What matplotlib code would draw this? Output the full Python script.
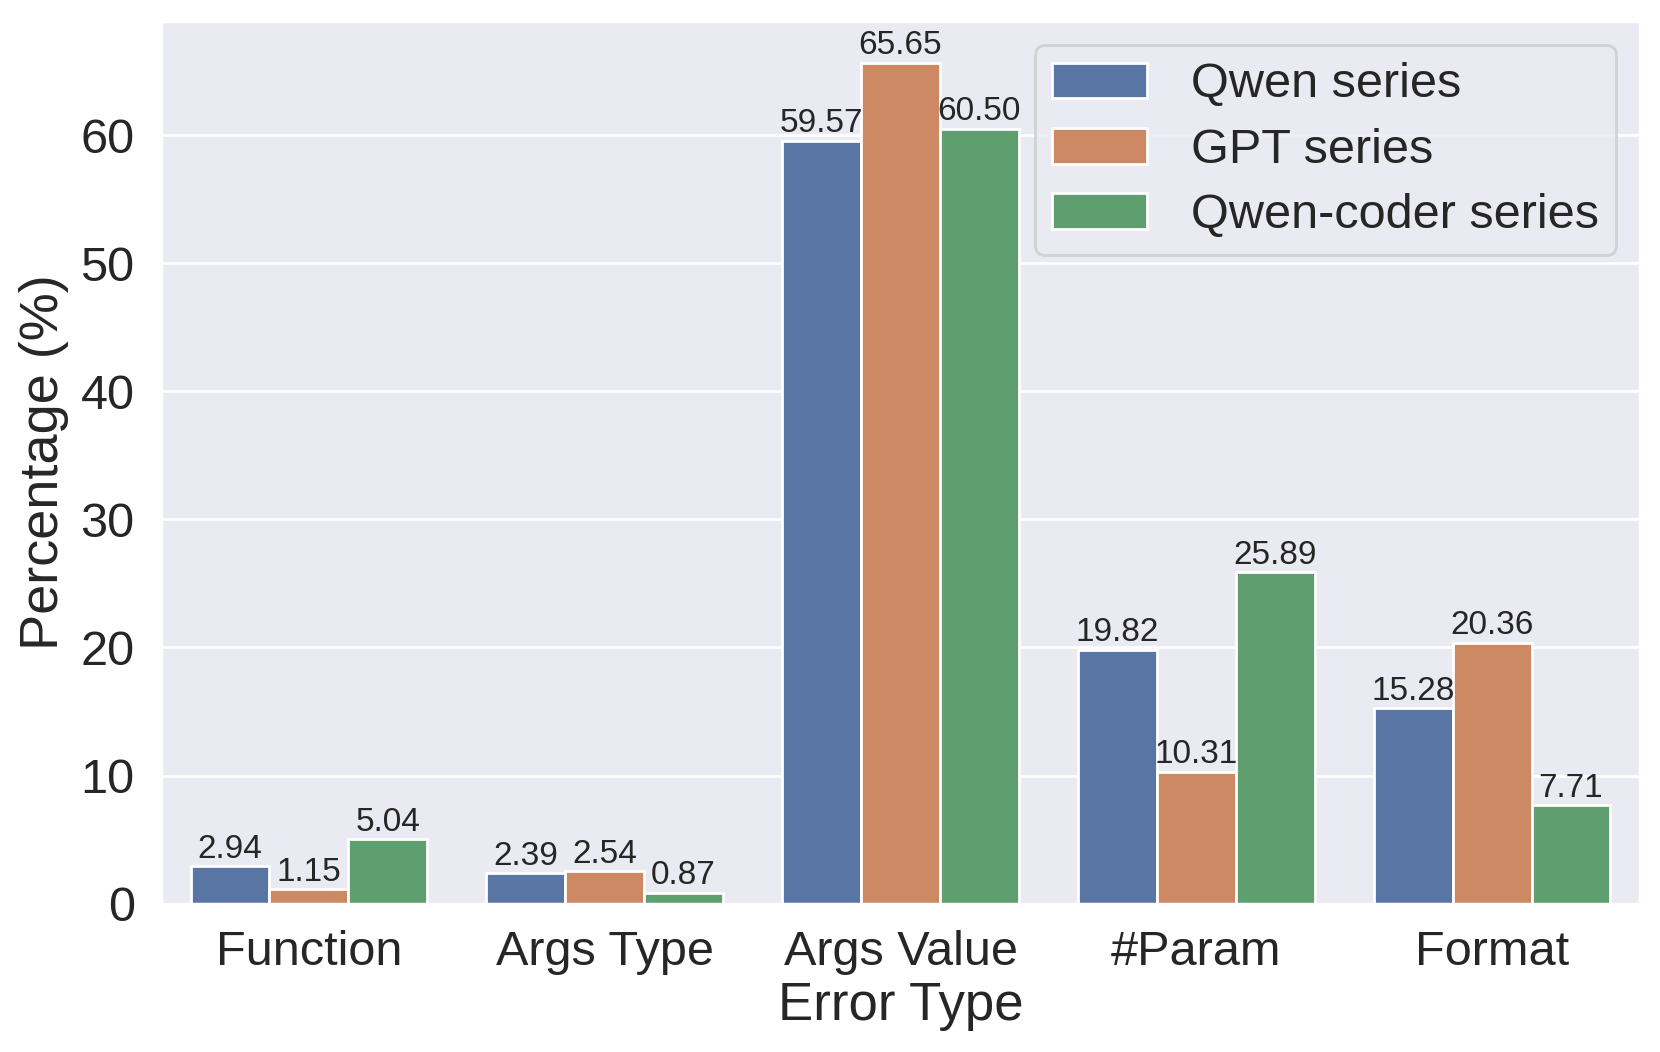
import numpy as np
import seaborn as sns
import matplotlib.pyplot as plt

error_types = ["Function", "Args Type", "Args Value", "#Param", "Format"]
series_names = ["Qwen series", "GPT series", "Qwen-coder series"]
qwen = [2.94, 2.39, 59.57, 19.82, 15.28]
gpt = [1.15, 2.54, 65.65, 10.31, 20.36]
qwen_coder = [5.04, 0.87, 60.50, 25.89, 7.71]


def main():
    sns.set_theme(style="darkgrid")
    plt.rcParams["font.family"] = ["Liberation Sans", "DejaVu Sans"]

    fig, ax = plt.subplots(figsize=(8.3, 5.26), dpi=200)
    colors = [sns.desaturate(c, 0.75) for c in sns.color_palette("deep", 3)]
    x = np.arange(len(error_types))
    width = 0.8 / 3

    for i, (name, vals) in enumerate(zip(series_names, [qwen, gpt, qwen_coder])):
        bars = ax.bar(x + (i - 1) * width, vals, width, label=name,
                      color=colors[i], edgecolor="white", linewidth=1.0)
        ax.bar_label(bars, fmt="%.2f", fontsize=12, padding=0.5)

    ax.set_xlim(-0.5, 4.5)
    ax.set_ylim(0, 68.9)
    ax.set_xticks(x)
    ax.set_xticklabels(error_types)
    ax.grid(False, axis="x")
    ax.tick_params(axis="both", labelsize=17.5)
    ax.set_xlabel("Error Type", fontsize=19, labelpad=2)
    ax.set_ylabel("Percentage (%)", fontsize=19.5)
    ax.legend(loc="upper right", fontsize=17.5, handlelength=1.95, handleheight=0.75,
              borderpad=0.35, labelspacing=0.42, handletextpad=0.9)

    fig.subplots_adjust(left=0.097, right=0.988, top=0.98, bottom=0.141)
    fig.savefig("out.png", dpi=200)


if __name__ == "__main__":
    main()
